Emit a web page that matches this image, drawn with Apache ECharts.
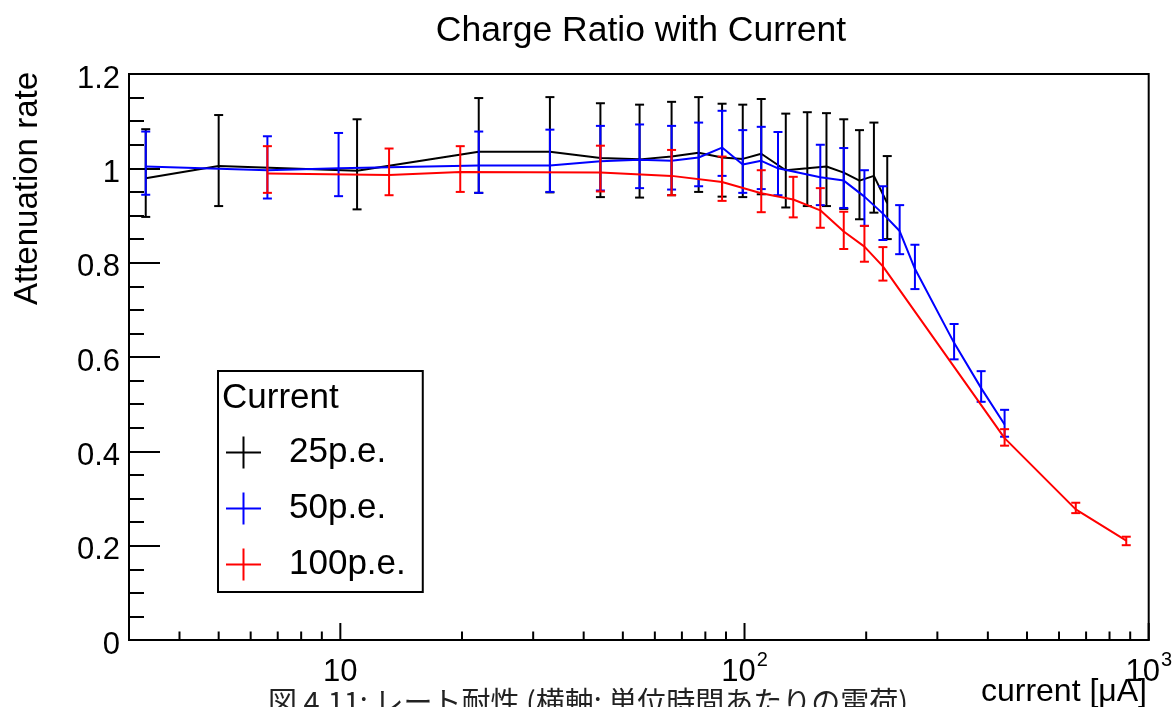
<!DOCTYPE html>
<html>
<head>
<meta charset="utf-8">
<script src="https://cdn.jsdelivr.net/npm/echarts@6/dist/echarts.min.js"></script>
<style>
html, body { margin: 0; padding: 0; background: #ffffff; }
#chart { width: 1175px; height: 707px; }
</style>
</head>
<body>
<div id="chart"></div>
<script>
// ---------------- data ----------------
const titleText = 'Charge Ratio with Current';
const yTitleText = 'Attenuation rate';
const xTitleText = 'current [\u03bcA]';
const legendTitleText = 'Current';
const captionText = '図 4.11: レート耐性 (横軸: 単位時間あたりの電荷)';

const seriesNames = ['25p.e.', '50p.e.', '100p.e.'];
const seriesColors = ['#000000', '#0000ff', '#ff0000'];

// 25 p.e.
const x25  = [3.3, 5, 11, 22, 33, 44, 55, 66, 77, 88, 99, 110, 126.5, 143, 159.5, 176, 192.5, 209, 225.5];
const y25  = [0.979, 1.005, 0.995, 1.035, 1.035, 1.022, 1.019, 1.025, 1.033, 1.023, 1.020, 1.031, 0.996, 1.000, 1.004, 0.991, 0.974, 0.984, 0.926];
const lo25 = [0.897, 0.920, 0.913, 0.948, 0.949, 0.939, 0.938, 0.943, 0.950, 0.940, 0.939, 0.945, 0.917, 0.920, 0.920, 0.914, 0.892, 0.906, 0.850];
const hi25 = [1.083, 1.113, 1.104, 1.149, 1.151, 1.138, 1.135, 1.141, 1.151, 1.137, 1.135, 1.147, 1.116, 1.119, 1.117, 1.104, 1.081, 1.097, 1.026];

// 50 p.e.
const x50  = [3.3, 6.6, 9.9, 22, 33, 44, 55, 66, 77, 88, 99, 110, 121, 154, 176, 198, 220, 242, 264, 330, 385, 440];
const y50  = [1.004, 0.996, 1.000, 1.006, 1.006, 1.015, 1.018, 1.016, 1.023, 1.044, 1.008, 1.016, 1.000, 0.981, 0.974, 0.940, 0.904, 0.867, 0.787, 0.630, 0.534, 0.457];
const lo50 = [0.944, 0.936, 0.941, 0.948, 0.950, 0.953, 0.958, 0.955, 0.962, 0.984, 0.948, 0.956, 0.943, 0.922, 0.916, 0.878, 0.848, 0.818, 0.744, 0.595, 0.505, 0.431];
const hi50 = [1.078, 1.068, 1.075, 1.078, 1.082, 1.090, 1.093, 1.090, 1.097, 1.122, 1.081, 1.088, 1.077, 1.050, 1.043, 0.996, 0.962, 0.922, 0.838, 0.670, 0.570, 0.488];

// 100 p.e.
const x100  = [6.6, 13.2, 19.8, 44, 66, 88, 110, 132, 154, 176, 198, 220, 440, 660, 880];
const y100  = [0.989, 0.986, 0.992, 0.991, 0.984, 0.971, 0.947, 0.934, 0.911, 0.866, 0.834, 0.792, 0.428, 0.277, 0.2105];
const lo100 = [0.948, 0.943, 0.950, 0.951, 0.943, 0.931, 0.907, 0.896, 0.874, 0.829, 0.802, 0.762, 0.412, 0.269, 0.201];
const hi100 = [1.047, 1.042, 1.047, 1.048, 1.039, 1.025, 0.996, 0.982, 0.958, 0.908, 0.878, 0.833, 0.447, 0.291, 0.219];

// axis ticks
const xMin = 3, xMax = 1000;
const yMin = 0, yMax = 1.2, yStep = 0.2;
const xMajorTicks = [10, 100, 1000];
const xTickLabels = ['{b|10}', '{b|10}{sup|2}', '{b|10}{sup|3}'];
const xMinorTicks = [4, 5, 6, 7, 8, 9, 20, 30, 40, 50, 60, 70, 80, 90, 200, 300, 400, 500, 600, 700, 800, 900];

// ---------------- chart ----------------
const FONT = '"Liberation Sans", Arial, Helvetica, sans-serif';
const groups = [
  { x: x25, y: y25, lo: lo25, hi: hi25 },
  { x: x50, y: y50, lo: lo50, hi: hi50 },
  { x: x100, y: y100, lo: lo100, hi: hi100 }
];

function errRender(color) {
  return function (params, api) {
    const x = api.value(0), lo = api.value(2), hi = api.value(3);
    const pt = api.coord([x, hi]);
    const pb = api.coord([x, lo]);
    const hw = 4.5;
    const style = { stroke: color, lineWidth: 2 };
    return {
      type: 'group',
      children: [
        { type: 'line', shape: { x1: pt[0], y1: pt[1], x2: pb[0], y2: pb[1] }, style: style },
        { type: 'line', shape: { x1: pt[0] - hw, y1: pt[1], x2: pt[0] + hw, y2: pt[1] }, style: style },
        { type: 'line', shape: { x1: pb[0] - hw, y1: pb[1], x2: pb[0] + hw, y2: pb[1] }, style: style }
      ]
    };
  };
}

function tickRender(params, api) {
  const v = api.value(0);
  const major = api.value(1) === 1;
  const p = api.coord([v, yMin]);
  const len = major ? 17 : 8.5;
  return {
    type: 'line',
    shape: { x1: p[0], y1: p[1], x2: p[0], y2: p[1] - len },
    style: { stroke: '#000', lineWidth: 2 }
  };
}

const series = [];
groups.forEach(function (g, i) {
  series.push({
    name: seriesNames[i],
    type: 'line',
    data: g.x.map(function (xv, k) { return [xv, g.y[k]]; }),
    symbol: 'none',
    showSymbol: false,
    lineStyle: { color: seriesColors[i], width: 2 },
    itemStyle: { color: seriesColors[i] },
    z: 3 + i,
    silent: true
  });
});
groups.forEach(function (g, i) {
  series.push({
    name: seriesNames[i],
    type: 'custom',
    renderItem: errRender(seriesColors[i]),
    data: g.x.map(function (xv, k) { return [xv, g.y[k], g.lo[k], g.hi[k]]; }),
    encode: { x: 0, y: 1 },
    z: 3 + i,
    silent: true
  });
});
const tickData = xMinorTicks.map(function (v) { return [v, 0]; })
  .concat(xMajorTicks.map(function (v) { return [v, 1]; }));
series.push({
  type: 'custom',
  renderItem: tickRender,
  data: tickData,
  encode: { x: 0 },
  z: 10,
  silent: true
});

const plusIcon = 'path://M0,15L35,15L35,17L0,17Z M16.5,0L18.5,0L18.5,32L16.5,32Z';

const option = {
  animation: false,
  backgroundColor: '#ffffff',
  grid: {
    left: 129, right: 22, top: 74, bottom: 67,
    show: true, borderColor: '#000', borderWidth: 2, backgroundColor: 'transparent'
  },
  xAxis: {
    type: 'log',
    logBase: 10,
    min: xMin,
    max: xMax,
    axisLine: { show: true, lineStyle: { color: '#000', width: 2 } },
    axisTick: { show: false },
    minorTick: { show: false },
    splitLine: { show: false },
    axisLabel: {
      show: true,
      margin: 10,
      fontSize: 31,
      fontFamily: FONT,
      color: '#000',
      formatter: function (v) {
        for (let i = 0; i < xMajorTicks.length; i++) {
          if (Math.abs(v - xMajorTicks[i]) < 1e-6 * xMajorTicks[i]) return xTickLabels[i];
        }
        return '';
      },
      rich: {
        b: { fontSize: 31, lineHeight: 38, fontFamily: FONT, color: '#000', verticalAlign: 'bottom' },
        sup: { fontSize: 20, lineHeight: 20, fontFamily: FONT, color: '#000', verticalAlign: 'top', padding: [0, 0, 0, 1] }
      }
    }
  },
  yAxis: {
    type: 'value',
    min: yMin,
    max: yMax,
    interval: yStep,
    axisLine: { show: true, lineStyle: { color: '#000', width: 2 } },
    axisTick: { show: true, inside: true, length: 31, lineStyle: { color: '#000', width: 2 } },
    minorTick: { show: true, splitNumber: 4, length: 15, lineStyle: { color: '#000', width: 2 } },
    splitLine: { show: false },
    axisLabel: {
      margin: 9, fontSize: 31, fontFamily: FONT, color: '#000',
      formatter: function (v) { return '{v|' + Number(v.toFixed(2)) + '}'; },
      rich: { v: { fontSize: 31, fontFamily: FONT, color: '#000', padding: [10, 0, 0, 0] } }
    }
  },
  legend: {
    orient: 'vertical',
    left: 218,
    top: 371,
    padding: [64, 17, 10, 8],
    itemGap: 21,
    itemWidth: 35,
    itemHeight: 32,
    borderColor: '#000',
    borderWidth: 2,
    borderRadius: 0,
    backgroundColor: '#ffffff',
    selectedMode: false,
    textStyle: { fontSize: 35, fontFamily: FONT, color: '#000', padding: [0, 0, 0, 23] },
    data: seriesNames.map(function (n, i) {
      return { name: n, icon: plusIcon, itemStyle: { color: seriesColors[i], borderWidth: 0 } };
    })
  },
  graphic: [
    { type: 'text', x: 641, y: 31, z: 100,
      style: { text: titleText, fontSize: 35.5, fontFamily: FONT, fill: '#000', align: 'center', verticalAlign: 'middle' } },
    { type: 'text', x: 28, y: 72, z: 100, rotation: Math.PI / 2,
      style: { text: yTitleText, fontSize: 33, fontFamily: FONT, fill: '#000', align: 'right', verticalAlign: 'middle' } },
    { type: 'text', x: 1147, y: 692, z: 100,
      style: { text: xTitleText, fontSize: 32, fontFamily: FONT, fill: '#000', align: 'right', verticalAlign: 'middle' } },
    { type: 'text', x: 222, y: 398, z: 100,
      style: { text: legendTitleText, fontSize: 35, fontFamily: FONT, fill: '#000', align: 'left', verticalAlign: 'middle' } },
    { type: 'text', x: 268, y: 702, z: 100,
      style: { text: captionText, fontSize: 29, fontFamily: '"Noto Sans CJK JP", sans-serif', fill: '#222', align: 'left', verticalAlign: 'middle' } }
  ],
  series: series
};

const chart = echarts.init(document.getElementById('chart'), null, { renderer: 'canvas' });
chart.setOption(option);
</script>
</body>
</html>
